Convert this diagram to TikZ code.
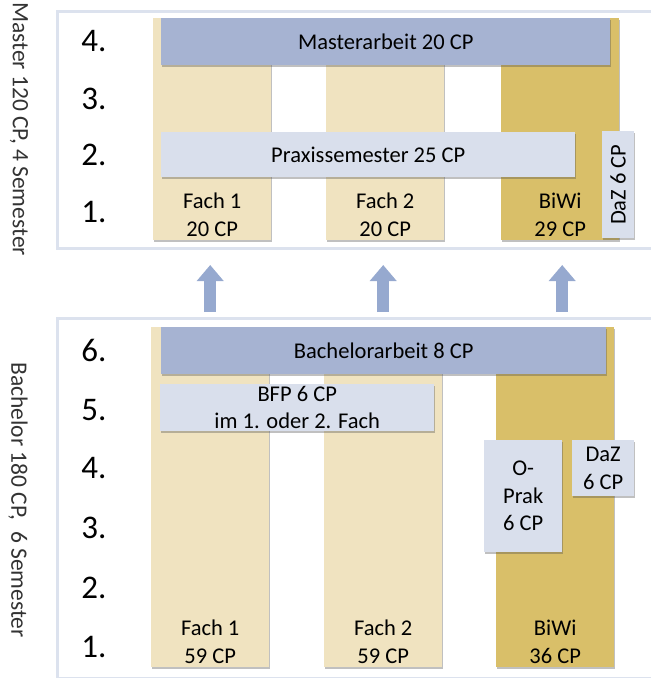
\documentclass[tikz,border=0pt]{standalone}
\usepackage{fontspec}
\setmainfont{Carlito}
\usetikzlibrary{arrows.meta,shadows,positioning}

\definecolor{fachcol}{HTML}{F0E3C0}
\definecolor{biwicol}{HTML}{D9BF69}
\definecolor{arbeitcol}{HTML}{A6B3D2}
\definecolor{extracol}{HTML}{D9DFEC}
\definecolor{framecol}{HTML}{DCE2EE}
\definecolor{arrowcol}{HTML}{96A9CF}

\newcommand{\boxfont}{\fontsize{22.5}{27.5}\selectfont}
\newcommand{\semfont}{\fontsize{33}{36}\selectfont}
\newcommand{\sidefont}{\fontsize{23.5}{26}\selectfont}

\begin{document}
\begin{tikzpicture}[x=1pt, y=-1pt,
        % Define styles
        softshadow/.style={drop shadow={shadow xshift=0.8pt, shadow yshift=-1.5pt, opacity=0.35, fill=black!70}},
        panel/.style={
        draw=framecol,
        line width=3pt,
        fill=white,
        anchor=north west,
        inner sep=0pt,
        softshadow
        },
        column/.style={
        fill=fachcol,
        anchor=north west,
        inner sep=0pt,
        minimum width=118pt,
        softshadow
        },
        biwi/.style={column, fill=biwicol},
        arbeit/.style={
        fill=arbeitcol,
        anchor=north west,
        inner sep=0pt,
        minimum height=47pt,
        font=\boxfont,
        softshadow
        },
        extra/.style={arbeit, fill=extracol, align=center},
        coltext/.style={anchor=south, align=center, font=\boxfont, inner sep=4pt},
        semester/.style={font=\semfont},
        side/.style={rotate=-90, font=\sidefont, text=black!80},
        uparrow/.style={draw=arrowcol, line width=12pt, -{Triangle[width=26pt,length=16pt]},
        shorten <=5pt, shorten >=15pt}
        ]
        \useasboundingbox (0,0) rectangle (651,678);

        % Frames
        \node[panel, minimum width=640pt, minimum height=237pt] (master) at (56,10) {};
        \node[panel, minimum width=640pt, minimum height=360pt] (bachelor) at (56,317) {};

        % Side labels
        \node[side] (mlabel) at (19,129) {Master 120 CP, 4 Semester};
        \node[side] (blabel) at (18,500) {Bachelor 180 CP,\ \ 6 Semester};

        % Master columns
        \node[column, minimum height=222pt] (mfach1) at (153,18) {};
        \node[column, minimum height=222pt] (mfach2) at (326,18) {};
        \node[biwi, minimum height=222pt] (mbiwi) at (501,18) {};
        \node[coltext] (mfach1t) at (mfach1.south) {Fach 1\\20 CP};
        \node[coltext] (mfach2t) at (mfach2.south) {Fach 2\\20 CP};
        \node[coltext] (mbiwit) at (mbiwi.south) {BiWi\\29 CP};

        \node[arbeit, minimum width=449pt] (marbeit) at (161,18) {Masterarbeit 20 CP};
        \node[extra, minimum width=414pt, minimum height=45pt] (praxis) at (161,132) {Praxissemester 25 CP};
        \node[extra, minimum width=32pt, minimum height=107pt] (mdaz) at (602,131) {};
        \node[font=\boxfont, rotate=90] (mdazt) at (mdaz.center) {DaZ 6 CP};

        % Bachelor columns
        \node[column, minimum height=340pt] (bfach1) at (151,327) {};
        \node[column, minimum height=340pt] (bfach2) at (324,327) {};
        \node[biwi, minimum height=340pt] (bbiwi) at (496,327) {};
        \node[coltext] (bfach1t) at (bfach1.south) {Fach 1\\59 CP};
        \node[coltext] (bfach2t) at (bfach2.south) {Fach 2\\59 CP};
        \node[coltext] (bbiwit) at (bbiwi.south) {BiWi\\36 CP};

        \node[arbeit, minimum width=445pt] (barbeit) at (161,327) {Bachelorarbeit 8 CP};
        \node[extra, minimum width=274pt] (bfp) at (160,384) {BFP 6 CP\\im 1. oder 2. Fach};
        \node[extra, minimum width=78pt, minimum height=112pt] (oprak) at (484,440) {O-\\Prak\\6 CP};
        \node[extra, minimum width=62pt, minimum height=56pt] (bdaz) at (572,440) {DaZ\\6 CP};

        % Semester numbers
        \foreach \n/\y in {4/41, 3/99, 2/155, 1/212}
            \node[semester] (m\n) at (94,\y) {\n.};
        \foreach \n/\y in {6/350, 5/410, 4/468, 3/528, 2/588, 1/647}
            \node[semester] (b\n) at (94,\y) {\n.};

        % Arrows
        \draw[uparrow] (bachelor.north -| bfach1) -- (master.south -| bfach1);
        \draw[uparrow] (bachelor.north -| bfach2) -- (master.south -| bfach2);
        \draw[uparrow] ([xshift=7pt]bachelor.north -| bbiwi) -- ([xshift=7pt]master.south -| bbiwi);
    \end{tikzpicture}
\end{document}
